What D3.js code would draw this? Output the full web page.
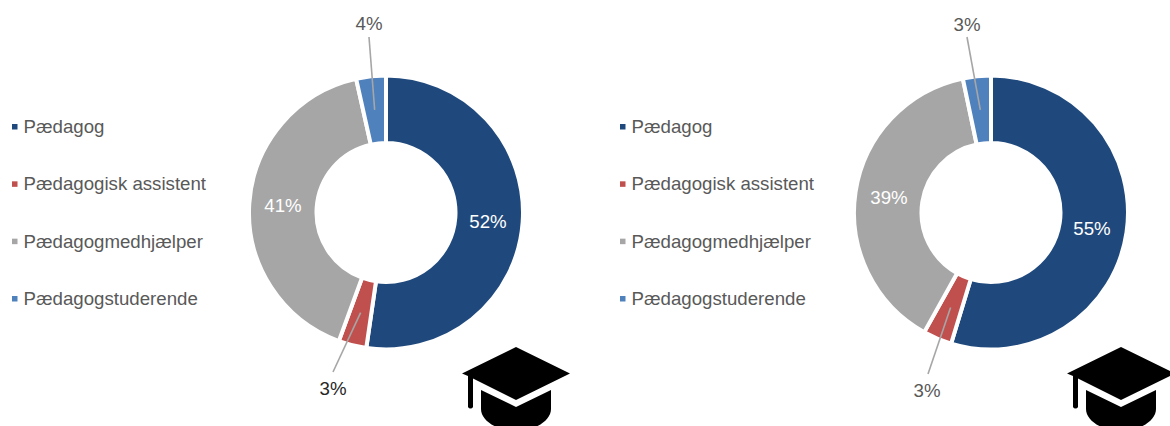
<!DOCTYPE html>
<html><head><meta charset="utf-8">
<script src="https://cdn.jsdelivr.net/npm/d3@7"></script>
<style>html,body{margin:0;padding:0;background:#fff}svg{display:block}text{font-family:"Liberation Sans",Arial,sans-serif}</style>
</head><body><svg id="c" width="1170" height="426"></svg>
<script>
const categories = ["Pædagog","Pædagogisk assistent","Pædagogmedhjælper","Pædagogstuderende"];
const colors = ["#1F497D","#C0504D","#A6A6A6","#4F81BD"];
const valuesLeft = [52.3,3.3,40.9,3.5];
const labelsLeft = ["52%","3%","41%","4%"];
const valuesRight = [54.7,3.4,38.6,3.3];
const labelsRight = ["55%","3%","39%","3%"];

const W=1170,H=426,R=137,r=69.5,fs=18.67;
const svg=d3.select("#c").attr("viewBox",[0,0,W,H]);
const panels=[
 {values:valuesLeft,labels:labelsLeft,cx:386,lx:12,capDx:0,
  outside:[{i:1,ex:-53,ey:159.5,tx:-53,ty:175.5,col:"#262626"},{i:3,ex:-17,ey:-175.5,tx:-17,ty:-189.5,col:"#595959"}],
  inside:[{i:0,x:488,y:221.5},{i:2,x:283,y:205.5}]},
 {values:valuesRight,labels:labelsRight,cx:991,lx:620,capDx:605,
  outside:[{i:1,ex:-63,ey:161.5,tx:-64,ty:177.5,col:"#595959"},{i:3,ex:-24,ey:-175.5,tx:-24,ty:-188.5,col:"#595959"}],
  inside:[{i:0,x:1092,y:228.5},{i:2,x:889,y:197.5}]}
];
const cy=212.5;
const y=d3.scalePoint().domain(categories).range([126.5,298.5]);
const pie=d3.pie().sort(null).value(d=>d);
const arc=d3.arc().innerRadius(r).outerRadius(R);
const capPath="M54,0 L108,26.5 L54,53 L11,31.5 L11,60 A2.8,2.8 0 0 1 6,60 L6,29 L0,26.5 Z M19,43 L54,60 L89,43 L89,62 C89,74 72,84 54,84 C36,84 19,74 19,62 Z";
panels.forEach(p=>{
  const g=svg.append("g").attr("transform",`translate(${p.cx},${cy})`);
  const arcs=pie(p.values);
  g.selectAll("path").data(arcs).join("path").attr("d",arc)
    .attr("fill",(d,i)=>colors[i]).attr("stroke","#fff").attr("stroke-width",4);
  p.outside.forEach(o=>{
    const c=arc.centroid(arcs[o.i]);
    g.append("line").attr("x1",c[0]).attr("y1",c[1]).attr("x2",o.ex).attr("y2",o.ey)
      .attr("stroke","#A6A6A6").attr("stroke-width",1.6);
    g.append("text").attr("x",o.tx).attr("y",o.ty).attr("text-anchor","middle").attr("dominant-baseline","central")
      .attr("font-size",fs).attr("fill",o.col).text(p.labels[o.i]);
  });
  p.inside.forEach(o=>{
    svg.append("text").attr("x",o.x).attr("y",o.y).attr("text-anchor","middle").attr("dominant-baseline","central")
      .attr("font-size",fs).attr("fill","#fff").text(p.labels[o.i]);
  });
  const lg=svg.append("g");
  categories.forEach((c,i)=>{
    lg.append("rect").attr("x",p.lx).attr("y",y(c)-2.5).attr("width",5.5).attr("height",5.5).attr("fill",colors[i]);
    lg.append("text").attr("x",p.lx+11.5).attr("y",y(c)).attr("dominant-baseline","central")
      .attr("font-size",fs).attr("fill","#595959").text(c);
  });
  svg.append("path").attr("d",capPath).attr("transform",`translate(${462+p.capDx},347)`).attr("fill","#000");
});
</script></body></html>
